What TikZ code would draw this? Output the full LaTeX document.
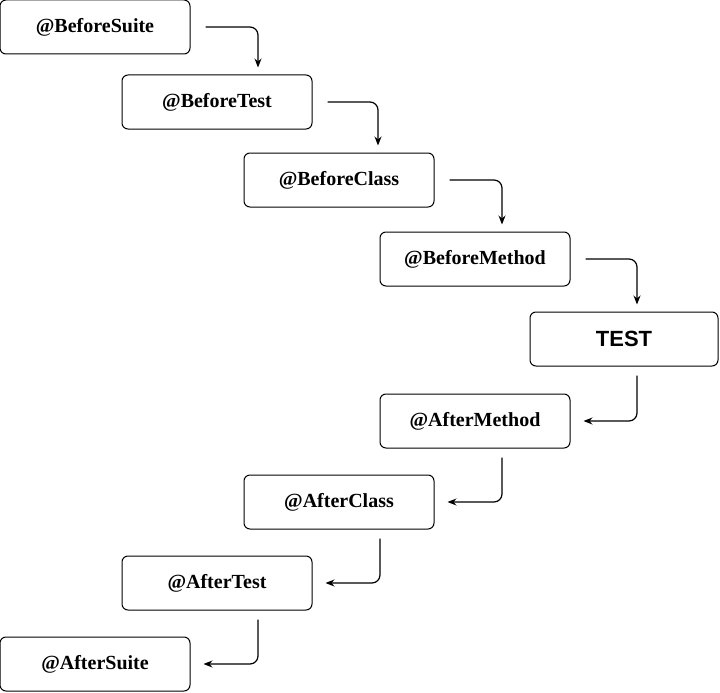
\documentclass[tikz,border=0pt]{standalone}
\usepackage{fontspec}
\setmainfont{Liberation Serif}
\setsansfont{Liberation Sans}
\usetikzlibrary{arrows.meta,positioning,calc}

\begin{document}
\begin{tikzpicture}[
    x=1pt, y=1pt,
    box/.style={draw, line width=1pt, rounded corners=6pt, minimum width=190pt, minimum height=54pt, align=center, font=\fontsize{20}{24}\selectfont\bfseries},
    testbox/.style={box, font=\fontsize{22}{26}\selectfont\sffamily\bfseries},
    arrow/.style={-{Stealth[length=9pt,width=7pt]}, line width=1.2pt, rounded corners=8pt}
]
\useasboundingbox (0,0) rectangle (720,-693);

% Before hooks
\node[box] (bsuite) at (95,-27) {@BeforeSuite};
\node[box] (btest) at (217,-102) {@BeforeTest};
\node[box] (bclass) at (339,-180) {@BeforeClass};
\node[box] (bmethod) at (475,-259) {@BeforeMethod};

% Test
\node[testbox, minimum width=188pt] (test) at (624,-339) {TEST};

% After hooks
\node[box] (amethod) at (475,-421) {@AfterMethod};
\node[box] (aclass) at (339,-502) {@AfterClass};
\node[box] (atest) at (217,-583) {@AfterTest};
\node[box] (asuite) at (95,-664) {@AfterSuite};

% Going down
\draw[arrow] ($(bsuite.east)+(15,0)$) -| ($(btest.north)+(41,7)$);
\draw[arrow] ($(btest.east)+(15,0)$) -| ($(bclass.north)+(39,7)$);
\draw[arrow] ($(bclass.east)+(15,0)$) -| ($(bmethod.north)+(27,7)$);
\draw[arrow] ($(bmethod.east)+(15,0)$) -| ($(test.north)+(13,7)$);

% Coming back
\draw[arrow] ($(test.south)+(13,-9)$) |- ($(amethod.east)+(13,0)$);
\draw[arrow] ($(amethod.south)+(27,-9)$) |- ($(aclass.east)+(13,0)$);
\draw[arrow] ($(aclass.south)+(41,-9)$) |- ($(atest.east)+(13,0)$);
\draw[arrow] ($(atest.south)+(41,-9)$) |- ($(asuite.east)+(13,0)$);

\end{tikzpicture}
\end{document}
